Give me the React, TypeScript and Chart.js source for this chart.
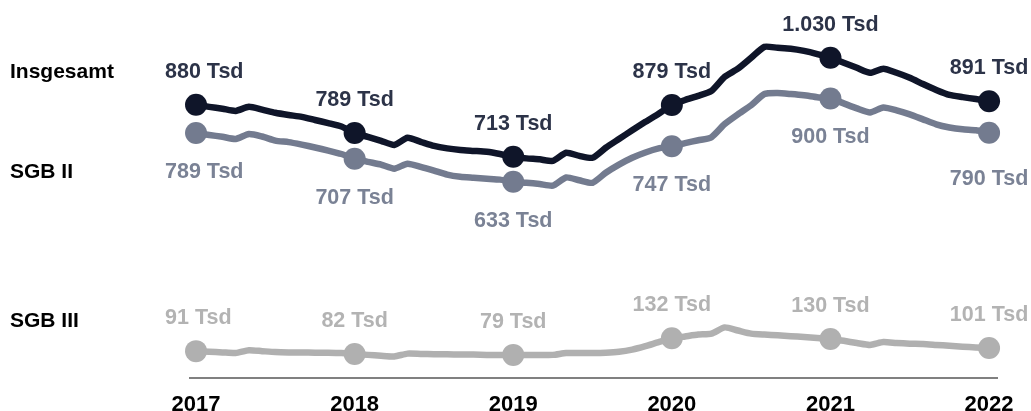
import React, { useEffect, useRef } from "react";
import { Chart, registerables } from "chart.js";

Chart.register(...registerables);

const years = [2017, 2018, 2019, 2020, 2021, 2022];
const seriesNames = ["Insgesamt", "SGB II", "SGB III"];

// monthly values (Tsd), Jan 2017 ... Jan 2022
const insgesamt = [
  880, 873, 867, 860, 873, 864, 854, 847, 841, 831, 821, 810,
  789, 777, 764, 751, 774, 761, 748, 740, 735, 732, 729, 722,
  713, 708, 705, 700, 726, 716, 710, 742, 770, 798, 825, 851,
  879, 895, 908, 924, 969, 995, 1030, 1065, 1062, 1059, 1052, 1042,
  1030, 1014, 998, 982, 995, 982, 966, 946, 927, 911, 904, 898,
  891,
];
const sgb2 = [
  789, 783, 777, 770, 786, 778, 765, 760, 752, 743, 733, 722,
  707, 697, 688, 675, 691, 681, 669, 656, 649, 646, 643, 640,
  633, 630, 626, 621, 647, 638, 630, 662, 688, 710, 727, 740,
  747, 757, 766, 776, 818, 849, 878, 914, 917, 914, 910, 904,
  900, 884, 868, 855, 871, 862, 849, 833, 817, 807, 801, 798,
  790,
];
const sgb3 = [
  91, 89, 87, 85, 94, 91, 88, 87, 87, 86, 86, 85,
  82, 79, 76, 74, 83, 82, 81, 81, 80, 80, 79, 79,
  79, 79, 79, 79, 85, 85, 85, 86, 89, 96, 107, 120,
  132, 138, 144, 147, 167, 157, 147, 144, 142, 139, 136, 133,
  130, 124, 117, 111, 120, 117, 115, 114, 111, 108, 105, 103,
  101,
];

const seriesValues = [insgesamt, sgb2, sgb3];
const lineColors = ["#0f1529", "#737b8f", "#b0b0b0"];
const labelColors = ["#2c3348", "#7a8295", "#b3b3b3"];
const labelAbove = [true, false, true];

const FONT = '"Liberation Sans", Arial, Helvetica, sans-serif';

const fmt = (v: number) => String(v).replace(/\B(?=(\d{3})+(?!\d))/g, ".");

const labelPlugin = {
  id: "yearLabels",
  afterDatasetsDraw(chart: any) {
    const ctx = chart.ctx;
    ctx.save();
    ctx.textBaseline = "alphabetic";
    chart.data.datasets.forEach((ds: any, di: number) => {
      const meta = chart.getDatasetMeta(di);
      const vals = seriesValues[di];
      const last = vals.length - 1;
      vals.forEach((v: number, i: number) => {
        if (i % 12 !== 0) return;
        const el = meta.data[i];
        if (!el) return;
        let y = labelAbove[di] ? el.y - 27 : el.y + 45;
        if (!labelAbove[di] && i === last) y += 7;
        let x = el.x;
        if (i === 0) {
          ctx.textAlign = "left";
          x = el.x - 31;
        } else {
          ctx.textAlign = "center";
        }
        ctx.font = `bold 21.5px ${FONT}`;
        ctx.fillStyle = labelColors[di];
        ctx.fillText(`${fmt(v)} Tsd`, x, y);
        if (i === 0) {
          ctx.font = `bold 21px ${FONT}`;
          ctx.textAlign = "left";
          ctx.fillStyle = "#000000";
          ctx.fillText(seriesNames[di], chart.chartArea.left - 180, y + (di === 2 ? 3 : 0));
        }
      });
    });
    ctx.restore();
  },
};

export default function App() {
  const ref = useRef<HTMLCanvasElement | null>(null);

  useEffect(() => {
    if (!ref.current) return;
    const datasets = seriesValues.map((vals, di) => ({
      label: seriesNames[di],
      data: vals.map((v, i) => ({ x: years[0] + i / 12, y: v })),
      borderColor: lineColors[di],
      backgroundColor: lineColors[di],
      borderWidth: 6.5,
      borderJoinStyle: "round" as const,
      borderCapStyle: "round" as const,
      tension: 0.2,
      pointRadius: vals.map((_, i) => (i % 12 === 0 ? 11 : 0)),
      pointHoverRadius: vals.map((_, i) => (i % 12 === 0 ? 11 : 0)),
      pointBackgroundColor: lineColors[di],
      pointBorderWidth: 0,
      clip: false as any,
      order: di,
    }));

    const chart = new Chart(ref.current, {
      type: "line",
      data: { datasets },
      plugins: [labelPlugin],
      options: {
        animation: false,
        responsive: false,
        maintainAspectRatio: false,
        events: [],
        layout: { padding: { left: 190, right: 34, top: 20, bottom: 0 } },
        plugins: {
          legend: { display: false },
          tooltip: { enabled: false },
        },
        scales: {
          x: {
            type: "linear",
            min: years[0] - 0.038,
            max: years[years.length - 1] + 0.05,
            grid: { display: false, drawTicks: false },
            border: { display: true, color: "#808080", width: 2 },
            afterBuildTicks: (axis: any) => {
              axis.ticks = years.map((y) => ({ value: y }));
            },
            afterFit: (scale: any) => {
              scale.height = 33;
            },
            ticks: {
              autoSkip: false,
              maxRotation: 0,
              padding: 14,
              color: "#000000",
              font: { family: FONT, size: 22, weight: "bold" },
              callback: (v: any) => String(v),
            },
          },
          y: {
            display: false,
            min: 5,
            max: 1151,
          },
        },
      },
    });
    return () => chart.destroy();
  }, []);

  return (
    <div style={{ position: "absolute", left: 0, top: 0, width: 1031, height: 411, background: "#ffffff" }}>
      <canvas ref={ref} width={1031} height={411} style={{ display: "block" }} />
    </div>
  );
}
